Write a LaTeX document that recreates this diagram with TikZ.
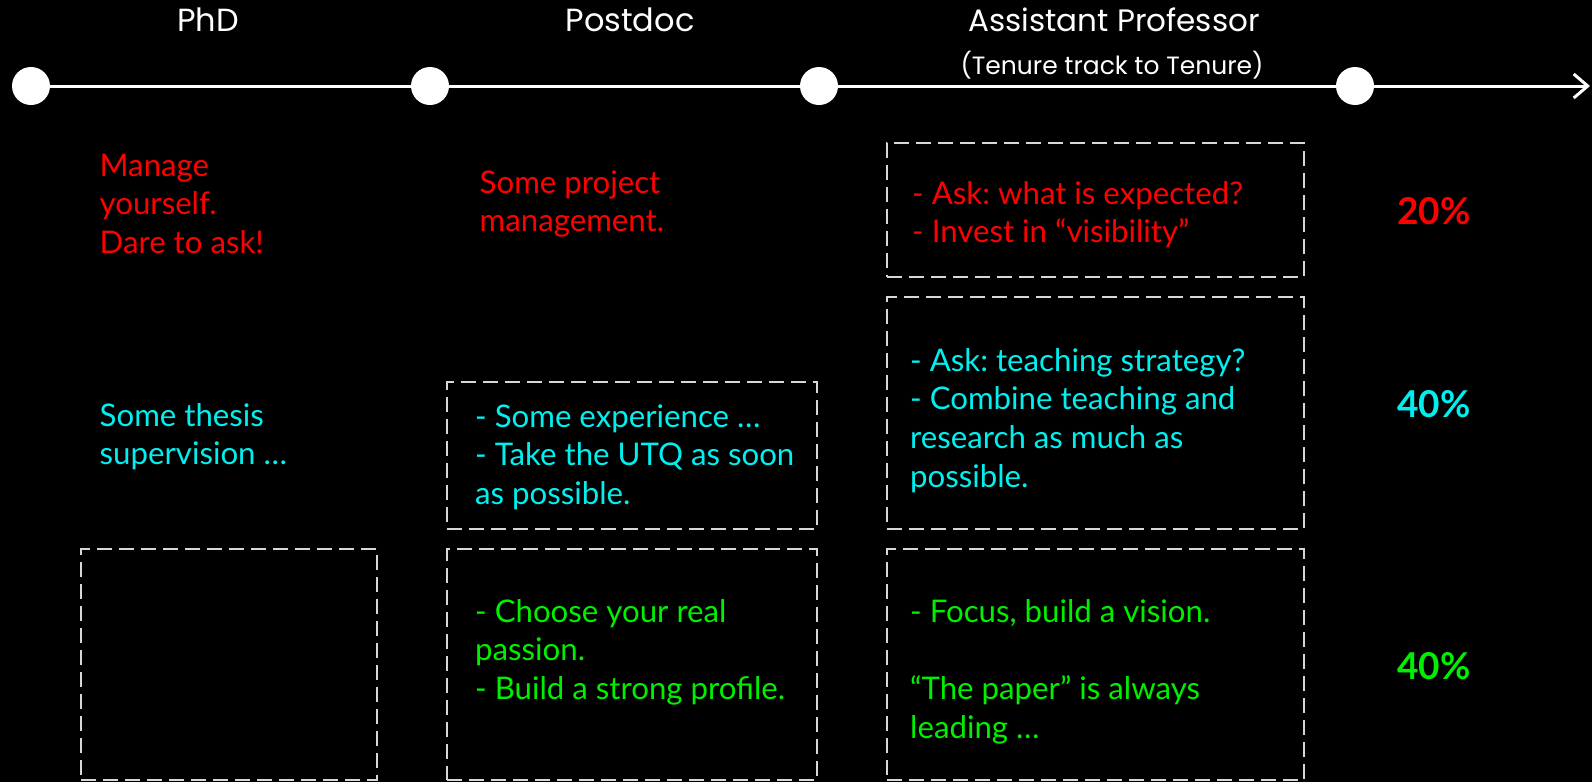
\documentclass[tikz,border=0pt]{standalone}
\usepackage{fontspec}
\setmainfont{Lato}
\newfontfamily\headfont{Poppins}
\usetikzlibrary{arrows.meta}
\definecolor{myred}{RGB}{255,0,0}
\definecolor{mycyan}{RGB}{0,240,240}
\definecolor{mygreen}{RGB}{0,240,0}
\definecolor{dashgrey}{RGB}{215,215,215}
\frenchspacing
\begin{document}
\begin{tikzpicture}[x=1pt,y=-1pt,
  dot/.style={circle,fill=white,minimum size=38pt,inner sep=0pt},
  head/.style={font=\headfont\fontsize{32}{36}\selectfont,text=white,inner sep=0pt},
  txt/.style={font=\fontsize{31.2}{38.7}\selectfont,align=left,inner sep=0pt,anchor=base west},
  dbox/.style={draw=dashgrey,line width=1.8pt,dash pattern=on 15pt off 7pt,inner sep=0pt},
  pct/.style={font=\bfseries\fontsize{37}{42}\selectfont,inner sep=0pt},
  tline/.style={draw=white,line width=3pt}]
\fill[black] (0,0) rectangle (1592,782);
\useasboundingbox (0,0) rectangle (1592,782);

% timeline
\node[dot] (c1) at (31,86) {};
\node[dot] (c2) at (430,86) {};
\node[dot] (c3) at (819,86) {};
\node[dot] (c4) at (1355,86) {};
\coordinate (tend) at (1590,86);
\draw[tline] (c1) -- (c2);
\draw[tline] (c2) -- (c3);
\draw[tline] (c3) -- (c4);
\draw[tline,-{Straight Barb[length=14pt,width=24pt]}] (c4) -- (tend);

% headers
\node[head] (hphd) at (208,20) {PhD};
\node[head] (hpost) at (630,20) {Postdoc};
\node[head,font=\headfont\fontsize{31}{36}\selectfont] (hasst) at (1114,20) {Assistant Professor};
\node[head,font=\headfont\fontsize{25}{30}\selectfont] (hten) at (1112,65) {(Tenure track to Tenure)};

% boxes
\node[dbox,minimum width=417pt,minimum height=134pt] (ba) at (1095.5,210) {};
\node[dbox,minimum width=417pt,minimum height=232pt] (bb) at (1095.5,413) {};
\node[dbox,minimum width=417pt,minimum height=231pt] (bc) at (1095.5,664.5) {};
\node[dbox,minimum width=370pt,minimum height=147pt] (pb) at (632,455.5) {};
\node[dbox,minimum width=370pt,minimum height=231pt] (pc) at (632,664.5) {};
\node[dbox,minimum width=296pt,minimum height=231pt] (dc) at (229,664.5) {};

% red row (positions give the baseline of the last line)
\node[txt,text=myred] (t1) at (99.5,253.4) {Manage\\yourself.\\Dare to ask!};
\node[txt,text=myred] (t2) at (479.5,231.7) {Some project\\management.};
\node[txt,text=myred] (t3) at (912,242.7) {- Ask: what is expected?\\- Invest in “visibility”};

% cyan row
\node[txt,text=mycyan] (t4) at (99.5,464.7) {Some thesis\\supervision …};
\node[txt,text=mycyan] (t5) at (475,504.4) {- Some experience …\\- Take the UTQ as soon\\as possible.};
\node[txt,text=mycyan] (t6) at (910,487.1) {- Ask: teaching strategy?\\- Combine teaching and\\research as much as\\possible.};

% green row
\node[txt,text=mygreen] (t7) at (475,699.4) {- Choose your real\\passion.\\- Build a strong profile.};
\node[txt,text=mygreen] (t8) at (910,738.1) {- Focus, build a vision.\\[38.7pt]“The paper” is always\\leading …};

% percentages
\node[pct,text=myred] (p1) at (1434,211) {20\%};
\node[pct,text=mycyan] (p2) at (1434,404) {40\%};
\node[pct,text=mygreen] (p3) at (1434,666) {40\%};
\end{tikzpicture}
\end{document}
